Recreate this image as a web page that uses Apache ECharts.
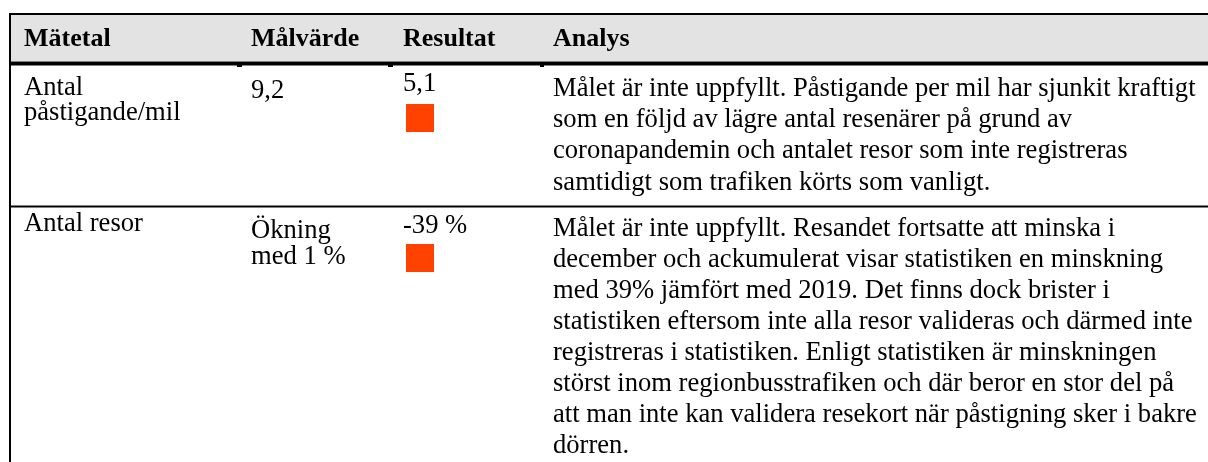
<!DOCTYPE html>
<html>
<head>
<meta charset="utf-8">
<script src="https://cdn.jsdelivr.net/npm/echarts@6/dist/echarts.min.js"></script>
<style>
  html, body { margin: 0; padding: 0; background: #fff; }
  #main { width: 1208px; height: 462px; }
</style>
</head>
<body>
<div id="main"></div>
<script>
// table content
var columns = ['Mätetal', 'Målvärde', 'Resultat', 'Analys'];
var metrics = [['Antal', 'påstigande/mil'], ['Antal resor']];
var targets = [['9,2'], ['Ökning', 'med 1 %']];
var results = ['5,1', '-39 %'];
var statusColors = ['#ff4200', '#ff4200'];
var analysis = [
    [
        'Målet är inte uppfyllt. Påstigande per mil har sjunkit kraftigt',
        'som en följd av lägre antal resenärer på grund av',
        'coronapandemin och antalet resor som inte registreras',
        'samtidigt som trafiken körts som vanligt.'
    ],
    [
        'Målet är inte uppfyllt. Resandet fortsatte att minska i',
        'december och ackumulerat visar statistiken en minskning',
        'med 39% jämfört med 2019. Det finns dock brister i',
        'statistiken eftersom inte alla resor valideras och därmed inte',
        'registreras i statistiken. Enligt statistiken är minskningen',
        'störst inom regionbusstrafiken och där beror en stor del på',
        'att man inte kan validera resekort när påstigning sker i bakre',
        'dörren.'
    ]
];

// layout (pixel units of the hidden axes)
var W = 1208, H = 462;
var FONT = 'Liberation Serif';
var FS = 26.6, FS_HEAD = 26;
var MID = 9;                 // baseline -> middle offset
var COL_X = [24, 251, 403, 553];
var HEADER_BASE = 48;
var CELL_LH = 25.7;
var rowLayout = [
    { top: 65, metric: 96.7, target: 100, result: 93.3, square: 104, analysis: 98, lh: 31.2 },
    { top: 207, metric: 233.3, target: 240, result: 235, square: 244, analysis: 238, lh: 31 }
];

var chart = echarts.init(document.getElementById('main'), null, { renderer: 'canvas' });

function txt(api, x, base, s, bold) {
    var p = api.coord([x, base - MID]);
    return {
        type: 'text',
        x: p[0], y: p[1],
        style: {
            text: s, fill: '#000',
            font: (bold ? 'bold ' + FS_HEAD : FS) + 'px "' + FONT + '"',
            align: 'left', verticalAlign: 'middle'
        }
    };
}

function rect(api, x, y, w, h, color) {
    var p = api.coord([x, y]);
    var q = api.coord([x + w, y + h]);
    return {
        type: 'rect',
        shape: { x: p[0], y: p[1], width: q[0] - p[0], height: q[1] - p[1] },
        style: { fill: color }
    };
}

function renderFrame(params, api) {
    var kids = [];
    kids.push(rect(api, 10, 15, W - 10, 46, '#e3e3e3'));
    kids.push(rect(api, 9, 13, W - 9, 2, '#000'));
    kids.push(rect(api, 9, 13, 2, H - 13, '#000'));
    kids.push(rect(api, 9, 61.5, W - 9, 4, '#000'));
    [[237, 5], [388, 5], [540, 4]].forEach(function (s) {
        kids.push(rect(api, s[0], 65, s[1], 2, '#000'));
    });
    for (var r = 1; r < rowLayout.length; r++) {
        kids.push(rect(api, 9, rowLayout[r].top - 1.5, W - 9, 2, '#000'));
    }
    columns.forEach(function (c, i) {
        kids.push(txt(api, COL_X[i], HEADER_BASE, c, true));
    });
    return { type: 'group', children: kids };
}

function renderRow(params, api) {
    var i = params.dataIndex;
    var L = rowLayout[i];
    var kids = [];
    metrics[i].forEach(function (s, k) {
        kids.push(txt(api, COL_X[0], L.metric + k * CELL_LH, s));
    });
    targets[i].forEach(function (s, k) {
        kids.push(txt(api, COL_X[1], L.target + k * CELL_LH, s));
    });
    kids.push(txt(api, COL_X[2], L.result, results[i]));
    kids.push(rect(api, COL_X[2] + 3, L.square, 28, 28, statusColors[i]));
    analysis[i].forEach(function (s, k) {
        kids.push(txt(api, COL_X[3], L.analysis + k * L.lh, s));
    });
    return { type: 'group', children: kids };
}

chart.setOption({
    animation: false,
    grid: { left: 0, right: 0, top: 0, bottom: 0 },
    xAxis: { type: 'value', min: 0, max: W, show: false },
    yAxis: { type: 'value', min: 0, max: H, inverse: true, show: false },
    series: [
        {
            type: 'custom',
            clip: false,
            renderItem: renderFrame,
            data: [0]
        },
        {
            type: 'custom',
            clip: false,
            renderItem: renderRow,
            data: metrics.map(function (m, i) { return i; })
        }
    ]
});
</script>
</body>
</html>
